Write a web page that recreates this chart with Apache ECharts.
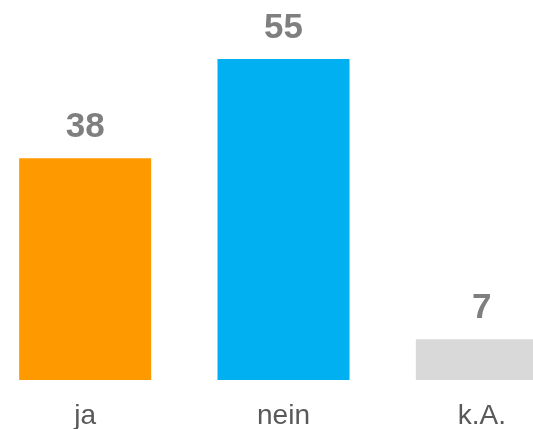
<!DOCTYPE html>
<html>
<head>
<meta charset="utf-8">
<script src="https://cdn.jsdelivr.net/npm/echarts@6/dist/echarts.min.js"></script>
<style>
  html, body { margin: 0; padding: 0; background: #fff; }
  #chart { width: 533px; height: 429px; }
</style>
</head>
<body>
<div id="chart"></div>
<script>
const categories = ['ja', 'nein', 'k.A.']
const values = [38, 55, 7]
const barColors = ['#ff9900', '#00b0f0', '#d9d9d9']

const chart = echarts.init(document.getElementById('chart'))
chart.setOption({
  animation: false,
  grid: {
    left: -14,
    width: 595,
    top: 59,
    bottom: 49,
    containLabel: false,
    outerBoundsMode: 'none'
  },
  xAxis: {
    type: 'category',
    data: categories,
    axisLine: { show: false },
    axisTick: { show: false },
    axisLabel: {
      color: '#595959',
      fontFamily: 'Liberation Sans',
      fontSize: 28,
      margin: 22
    }
  },
  yAxis: {
    type: 'value',
    min: 0,
    max: 55,
    show: false
  },
  series: [{
    type: 'bar',
    barWidth: 132,
    data: values.map((v, i) => ({ value: v, itemStyle: { color: barColors[i] } })),
    label: {
      show: true,
      position: 'top',
      distance: 13,
      color: '#7f7f7f',
      fontFamily: 'Liberation Sans',
      fontWeight: 'bold',
      fontSize: 35
    }
  }]
})
</script>
</body>
</html>
